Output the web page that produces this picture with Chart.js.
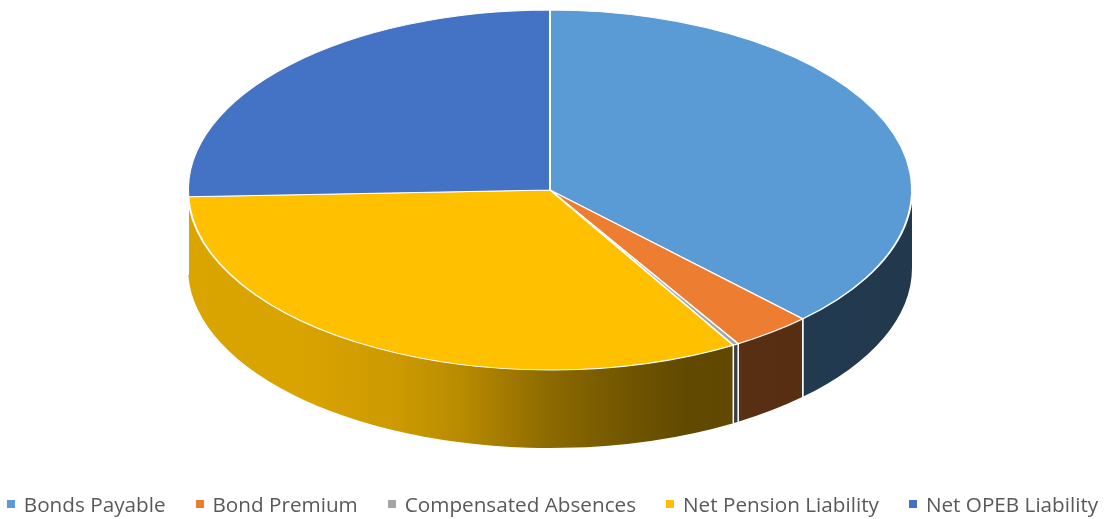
<!DOCTYPE html>
<html>
<head>
<meta charset="utf-8">
<script src="https://cdn.jsdelivr.net/npm/chart.js@4.4.0/dist/chart.umd.min.js"></script>
<style>
  html, body { margin: 0; padding: 0; background: #fff; }
  #wrap { position: relative; width: 1105px; height: 519px; overflow: hidden; }
  #pie { position: absolute; left: 0; top: 0; }
  #legend {
    position: absolute; left: 0; right: 0; top: 489px;
    display: flex; justify-content: center; gap: 30px;
    font-family: "Open Sans", sans-serif; font-size: 20.7px; color: #595959;
    white-space: nowrap; line-height: 30px;
  }
  #legend span.box { display: inline-block; width: 8px; height: 8px; margin-right: 9px; vertical-align: middle; position: relative; top: -2px; }
</style>
</head>
<body>
<div id="wrap">
  <canvas id="pie" width="1105" height="519"></canvas>
  <div id="legend"></div>
</div>
<script>
const categories = ["Bonds Payable", "Bond Premium", "Compensated Absences", "Net Pension Liability", "Net OPEB Liability"];
const shares = [37.7, 3.6, 0.25, 32.85, 25.6]; // percent of total
const sliceColors = ["#5B9BD5", "#ED7D31", "#A5A5A5", "#FFC000", "#4472C4"];

// ellipse of the top face + thickness of the side wall
const view = { cx: 550, cy: 190, rx: 362, ry: 180, depth: 78 };
// darkening of the wall from left to right (position, factor)
const wallShade = [[0, 0.86], [0.16, 0.85], [0.29, 0.8], [0.38, 0.72], [0.5, 0.55], [0.62, 0.43], [0.69, 0.38], [1, 0.36]];

function shade(hex, f) {
  const n = parseInt(hex.slice(1), 16);
  const r = Math.round(((n >> 16) & 255) * f);
  const g = Math.round(((n >> 8) & 255) * f);
  const b = Math.round((n & 255) * f);
  return "rgb(" + r + "," + g + "," + b + ")";
}

// fake 3D: squash the pie into an ellipse and draw the front wall under it
const tilt = {
  id: "tilt",
  beforeDatasetsDraw(chart) {
    const ctx = chart.ctx;
    const { cx, cy, rx, ry, depth } = view;
    const arcs = chart.getDatasetMeta(0).data;
    arcs.forEach((arc) => {
      arc.x = cx;
      arc.y = 0;
      arc.outerRadius = rx;
      arc.innerRadius = 0;
    });

    arcs.forEach((arc, i) => {
      const a = Math.max(arc.startAngle, 0);
      const b = Math.min(arc.endAngle, Math.PI);
      if (a >= b) return;
      const grad = ctx.createLinearGradient(cx - rx, 0, cx + rx, 0);
      wallShade.forEach(([pos, f]) => grad.addColorStop(pos, shade(sliceColors[i], f)));
      ctx.save();
      ctx.beginPath();
      ctx.ellipse(cx, cy, rx, ry, 0, a, b);
      ctx.ellipse(cx, cy + depth, rx, ry, 0, b, a, true);
      ctx.closePath();
      ctx.fillStyle = grad;
      ctx.fill();
      // white seams where slices meet on the wall
      ctx.strokeStyle = "#fff";
      ctx.lineWidth = 1.5;
      [a, b].forEach((t) => {
        if (t <= 0.001 || t >= Math.PI - 0.001) return;
        const x = cx + rx * Math.cos(t), y = cy + ry * Math.sin(t);
        ctx.beginPath();
        ctx.moveTo(x, y);
        ctx.lineTo(x, y + depth);
        ctx.stroke();
      });
      ctx.restore();
    });

    ctx.save();
    ctx.translate(0, cy);
    ctx.scale(1, ry / rx);
  },
  afterDatasetsDraw(chart) {
    chart.ctx.restore();
  }
};

const chart = new Chart(document.getElementById("pie"), {
  type: "pie",
  data: {
    labels: categories,
    datasets: [{
      data: shares,
      backgroundColor: sliceColors,
      borderColor: "#ffffff",
      borderWidth: 2,
      clip: false
    }]
  },
  options: {
    responsive: false,
    animation: false,
    events: [],
    plugins: { legend: { display: false }, tooltip: { enabled: false } }
  },
  plugins: [tilt]
});

// legend as html text under the chart
const legend = document.getElementById("legend");
categories.forEach((name, i) => {
  const item = document.createElement("div");
  item.innerHTML = '<span class="box" style="background:' + sliceColors[i] + '"></span>' + name;
  legend.appendChild(item);
});
</script>
</body>
</html>
